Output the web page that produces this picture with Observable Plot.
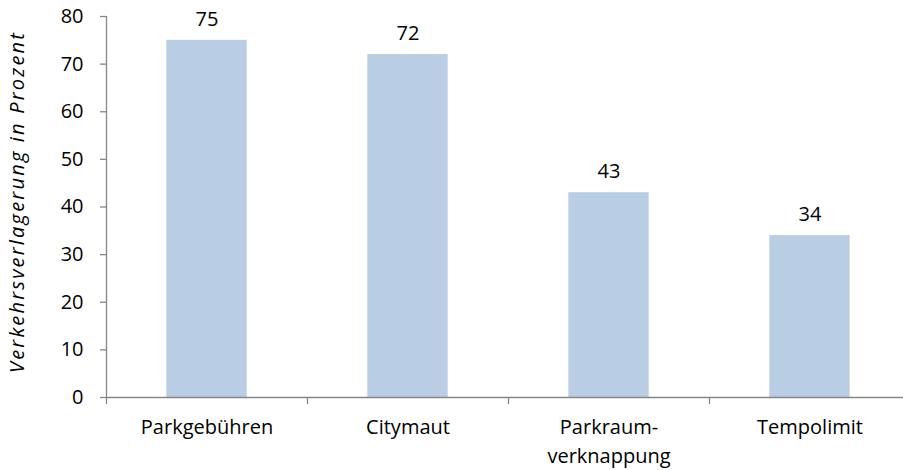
<!DOCTYPE html>
<html>
<head>
<meta charset="utf-8">
<script src="https://cdn.jsdelivr.net/npm/d3@7"></script>
<script src="https://cdn.jsdelivr.net/npm/@observablehq/plot@0.6"></script>
<style>
  html, body { margin: 0; padding: 0; background: #fff; }
</style>
</head>
<body>
<div id="chart"></div>
<script>
const categories = ["Parkgebühren", "Citymaut", "Parkraum-\nverknappung", "Tempolimit"];
const values = [75, 72, 43, 34];
const yTicks = [0, 10, 20, 30, 40, 50, 60, 70, 80];
const yLabel = "Verkehrsverlagerung in Prozent";

const data = categories.map((c, i) => ({ i, category: c, value: values[i] }));
const boundaries = d3.range(categories.length + 1);

const axisColor = "#868686";
const font = "Open Sans";
const fs = 20;

const chart = Plot.plot({
  width: 903,
  height: 470,
  marginTop: 16,
  marginBottom: 73,
  marginLeft: 106,
  marginRight: 0,
  style: { fontFamily: font, fontSize: fs + "px", color: "#000", background: "#fff" },
  x: { type: "linear", domain: [0, categories.length], range: [106, 910] },
  y: { domain: [0, 80], ticks: yTicks },
  marks: [
    Plot.rectY(data, { x1: d => d.i + 0.3, x2: d => d.i + 0.7, y1: 0, y2: "value", fill: "#b9cde5" }),
    Plot.ruleY([0], { stroke: axisColor, strokeWidth: 1.3 }),
    Plot.ruleX([0], { y1: 0, y2: 80, stroke: axisColor, strokeWidth: 1.3 }),
    Plot.axisY({ ticks: yTicks, tickSize: 6, tickPadding: 17, stroke: axisColor, strokeWidth: 1.3, fill: "#000", fontSize: fs, label: null }),
    Plot.axisX({ ticks: boundaries, tickSize: 7, tickFormat: () => "", stroke: axisColor, strokeWidth: 1.3, label: null }),
    Plot.text(data, { x: d => d.i + 0.5, frameAnchor: "bottom", text: "category", lineAnchor: "top", dy: 16, lineHeight: 1.45, fontSize: fs, fill: "#000" }),
    Plot.text(data, { x: d => d.i + 0.5, y: "value", text: d => String(d.value), lineAnchor: "middle", dy: -21, fontSize: fs, fill: "#000" }),
    Plot.text([yLabel], { frameAnchor: "left", textAnchor: "middle", rotate: -90, dx: -89, dy: -5, fontStyle: "italic", fontSize: fs, fill: "#000", text: d => d })
  ]
});

d3.select(chart).selectAll("text").filter(function () { return this.textContent === yLabel; })
  .style("letter-spacing", "2.2px");

document.getElementById("chart").appendChild(chart);
</script>
</body>
</html>
